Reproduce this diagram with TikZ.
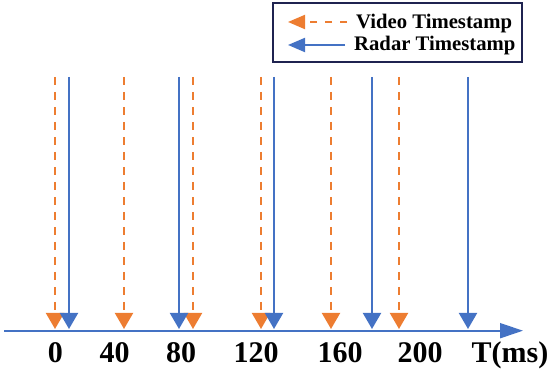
\documentclass[tikz,border=0pt]{standalone}
\usepackage{fontspec}
\setmainfont{Liberation Serif}
\usetikzlibrary{arrows.meta}
\definecolor{vorange}{HTML}{ED7D31}
\definecolor{rblue}{HTML}{4472C4}
\definecolor{framec}{HTML}{1F2350}
\begin{document}
\begin{tikzpicture}[x=1pt,y=1pt,
  video/.style={vorange, line width=2pt, dash pattern=on 8pt off 7pt, -{Triangle[width=18pt,length=16pt]}},
  radar/.style={rblue, line width=2pt, -{Triangle[width=18pt,length=16pt]}},
  lvideo/.style={vorange, line width=2pt, dash pattern=on 7pt off 8pt, -{Triangle[width=14pt,length=17pt]}},
  lradar/.style={rblue, line width=2pt, -{Triangle[width=14pt,length=17pt]}},
  tick/.style={anchor=base, inner sep=0pt, font=\fontsize{30}{32}\selectfont\bfseries},
  legtext/.style={anchor=base west, inner sep=0pt, font=\fontsize{20.7}{22}\selectfont\bfseries}]
\useasboundingbox (0,0) rectangle (550,371);
% axis
\coordinate (axs) at (4,40.3);
\coordinate (axe) at (523,40.3);
\draw[rblue, line width=2pt, -{Triangle[width=15pt,length=23pt]}] (axs) -- (axe);
% video timestamps
\foreach \x/\n in {55/v1,124/v2,193/v3,261/v4,331/v5,399/v6}{
  \coordinate (\n t) at (\x,294);
  \coordinate (\n b) at (\x,42);
  \draw[video] (\n t) -- (\n b);
}
% radar timestamps
\foreach \x/\n in {69/r1,179/r2,274/r3,372/r4,468/r5}{
  \coordinate (\n t) at (\x,294);
  \coordinate (\n b) at (\x,42);
  \draw[radar] (\n t) -- (\n b);
}
% tick labels
\node[tick] (l0) at (55.5,8.5) {0};
\node[tick] (l40) at (114.5,8.5) {40};
\node[tick] (l80) at (181,8.5) {80};
\node[tick] (l120) at (256,8.5) {120};
\node[tick] (l160) at (340,8.5) {160};
\node[tick] (l200) at (420,8.5) {200};
\node[tick] (lT) at (510,8.5) {T(ms)};
% legend
\node[draw=framec, line width=2pt, minimum width=249pt, minimum height=59pt, inner sep=0pt] (legend) at (397.5,338.5) {};
\coordinate (lvs) at (347,349);
\coordinate (lve) at (288,349);
\coordinate (lrs) at (345,326);
\coordinate (lre) at (288,326);
\draw[lvideo] (lvs) -- (lve);
\draw[lradar] (lrs) -- (lre);
\node[legtext] (tv) at (356,342.7) {Video Timestamp};
\node[legtext] (tr) at (354,320.3) {Radar Timestamp};
\end{tikzpicture}
\end{document}
